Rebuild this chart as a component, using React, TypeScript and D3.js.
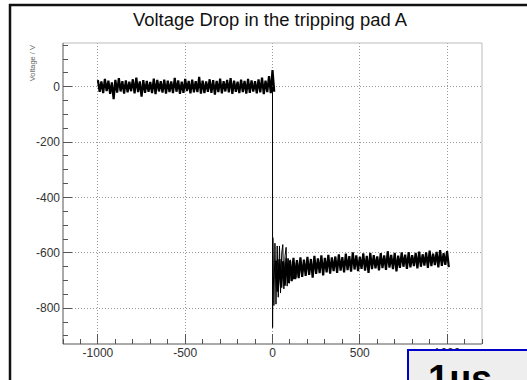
import React from 'react';
import * as d3 from 'd3';

const W = 527;
const H = 380;
const title = 'Voltage Drop in the tripping pad A';
const yLabel = 'Voltage / V';
const boxLabel = '1\u00b5s';

const xMajorTicks = [-1000, -500, 0, 500, 1000];
const yMajorTicks = [0, -200, -400, -600, -800];
const xDomain = [-1200, 1200];
const yDomain = [-929, 158];

// pre-trigger noise envelope (peaks / troughs), t = -1000 .. 0 step 20
const preStart = -1000;
const preStep = 20;
const preUpper = [24, 19, 28, 22, 16, 25, 31, 20, 23, 18, 27, 33, 19, 24, 21, 17, 29, 25, 20, 26, 22, 19, 32, 23, 18, 28, 21, 26, 20, 36, 22, 19, 27, 24, 21, 29, 20, 25, 31, 22, 18, 26, 21, 28, 23, 20, 27, 33, 22, 38, 60];
const preLower = [-18, -23, -16, -26, -45, -21, -17, -25, -20, -16, -24, -19, -36, -22, -18, -23, -27, -17, -21, -25, -19, -23, -18, -26, -22, -16, -24, -20, -19, -25, -23, -18, -22, -28, -19, -24, -17, -20, -26, -18, -23, -19, -25, -22, -17, -24, -20, -27, -19, -23, -18];

// ringing right after the trigger
const ringTimes = [-1, 0, 0.5, 2, 8, 14, 20, 27, 33, 40, 46, 53, 59, 65, 72, 78, 84, 90, 96, 102, 108, 114, 120, 127, 134, 141, 148, 155];
const ringValues = [-20, 0, -870, -545, -790, -565, -785, -575, -760, -575, -745, -600, -570, -730, -610, -580, -720, -620, -710, -625, -700, -630, -695, -635, -690, -630, -685, -628];

// post-trigger noise envelope, t = 20 .. 1000 step 20
const postStart = 20;
const postStep = 20;
const postUpper = [-628, -622, -630, -620, -628, -618, -626, -616, -624, -614, -622, -611, -620, -609, -618, -607, -616, -613, -605, -615, -603, -612, -598, -609, -614, -602, -611, -600, -608, -613, -601, -609, -594, -607, -600, -610, -598, -606, -597, -608, -600, -595, -605, -598, -592, -603, -596, -590, -601, -594];
const postLower = [-740, -726, -718, -708, -702, -695, -691, -687, -683, -679, -689, -676, -673, -681, -670, -675, -666, -672, -664, -670, -662, -668, -660, -666, -658, -664, -672, -659, -656, -663, -655, -661, -653, -659, -667, -654, -650, -658, -652, -648, -656, -650, -646, -654, -648, -644, -652, -647, -643, -651];

type Pt = [number, number];

// zig-zag between each envelope peak and trough, as the dense trace does
function zigzag(start: number, step: number, hi: number[], lo: number[]): Pt[] {
  const pts: Pt[] = [];
  hi.forEach((h, i) => {
    pts.push([start + i * step, h]);
    pts.push([start + i * step + step / 2, lo[i]]);
  });
  return pts;
}

export default function App() {
  const left = 63, right = 482, top = 43, bottom = 344;
  const x = d3.scaleLinear().domain(xDomain).range([left, right]);
  const y = d3.scaleLinear().domain(yDomain).range([bottom, top]);

  const line = d3
    .line<Pt>()
    .x((d) => x(d[0]))
    .y((d) => y(d[1]));

  const prePts = zigzag(preStart, preStep, preUpper, preLower);
  const postPts = zigzag(postStart, postStep, postUpper, postLower);
  const ringPts: Pt[] = ringTimes.map((t, i) => [t, ringValues[i]]);

  const xMinor = d3.range(-1200, 1201, 100).filter((v) => !xMajorTicks.includes(v));
  const yMinor = d3.range(-900, 151, 50).filter((v) => !yMajorTicks.includes(v));

  const font = '"Liberation Sans", Arial, sans-serif';

  return (
    <svg width={W} height={H} style={{ position: 'absolute', left: 0, top: 0, background: '#fff' }}>
      <rect x={0} y={0} width={W} height={H} fill="#fff" />
      {/* outer frame */}
      <line x1={9} y1={5} x2={W} y2={5} stroke="#111" strokeWidth={2.5} />
      <line x1={10} y1={4} x2={10} y2={H} stroke="#111" strokeWidth={2.5} />

      <text
        x={270}
        y={26}
        textAnchor="middle"
        fontFamily={font}
        fontSize={17.5}
        textLength={274}
        lengthAdjust="spacingAndGlyphs"
        fill="#111"
      >
        {title}
      </text>

      {/* grid */}
      <g stroke="#999" strokeWidth={1} strokeDasharray="1 2" shapeRendering="crispEdges">
        {xMajorTicks.map((v) => (
          <line key={'gx' + v} x1={x(v)} x2={x(v)} y1={top} y2={bottom} />
        ))}
        {yMajorTicks.map((v) => (
          <line key={'gy' + v} x1={left} x2={right} y1={y(v)} y2={y(v)} />
        ))}
      </g>

      {/* frame */}
      <line x1={left} x2={right} y1={top} y2={top} stroke="#bbb" />
      <line x1={right} x2={right} y1={top} y2={bottom} stroke="#bbb" />
      <line x1={left} x2={left} y1={top} y2={bottom} stroke="#555" />
      <line x1={left} x2={right} y1={bottom} y2={bottom} stroke="#555" />

      {/* ticks */}
      <g stroke="#555" strokeWidth={1} shapeRendering="crispEdges">
        {xMajorTicks.map((v) => (
          <line key={'xt' + v} x1={x(v)} x2={x(v)} y1={bottom} y2={bottom - 10} />
        ))}
        {xMinor.map((v) => (
          <line key={'xm' + v} x1={x(v)} x2={x(v)} y1={bottom} y2={bottom - 5} />
        ))}
        {yMajorTicks.map((v) => (
          <line key={'yt' + v} x1={left} x2={left + 9} y1={y(v)} y2={y(v)} />
        ))}
        {yMinor.map((v) => (
          <line key={'ym' + v} x1={left} x2={left + 5} y1={y(v)} y2={y(v)} />
        ))}
      </g>

      {/* data */}
      <path d={line(prePts) || ''} fill="none" stroke="#000" strokeWidth={2.2} strokeLinejoin="miter" strokeMiterlimit={2} />
      <path d={line(postPts) || ''} fill="none" stroke="#000" strokeWidth={2.2} strokeLinejoin="miter" strokeMiterlimit={2} />
      <path d={line(ringPts) || ''} fill="none" stroke="#000" strokeWidth={1} />

      {/* tick labels */}
      <g fontFamily={font} fontSize={12} fill="#333">
        {xMajorTicks.map((v) => (
          <text key={'xl' + v} x={x(v)} y={357} textAnchor="middle">
            {String(v)}
          </text>
        ))}
        {yMajorTicks.map((v) => (
          <text key={'yl' + v} x={60} y={y(v)} dy="0.35em" textAnchor="end">
            {String(v)}
          </text>
        ))}
      </g>

      <text
        transform={`translate(35, ${top + 2}) rotate(-90)`}
        textAnchor="end"
        fontFamily={font}
        fontSize={7.5}
        fill="#666"
      >
        {yLabel}
      </text>

      {/* overlay box */}
      <rect x={408} y={350} width={130} height={40} fill="#eeeeee" stroke="#0000cc" strokeWidth={2} />
      <text x={428} y={392} fontFamily={font} fontSize={38} fontWeight="bold" fill="#000">
        {boxLabel}
      </text>
    </svg>
  );
}
